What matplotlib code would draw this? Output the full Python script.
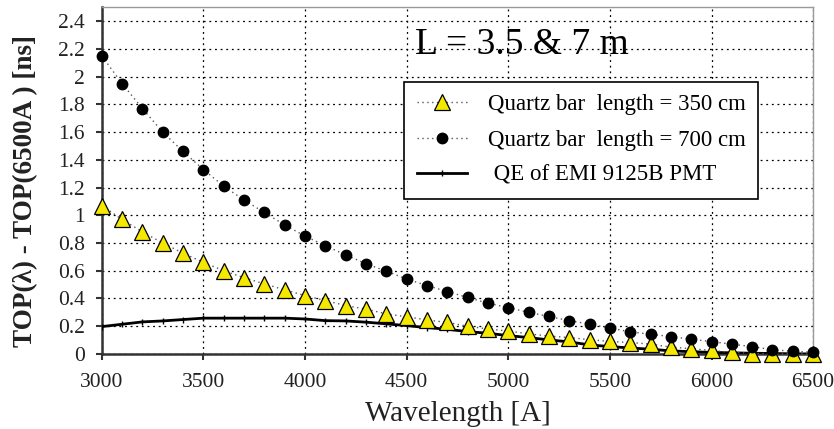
import matplotlib
matplotlib.use("Agg")
import matplotlib.pyplot as plt
from matplotlib.ticker import FixedLocator, FuncFormatter

wavelength = [3000, 3100, 3200, 3300, 3400, 3500, 3600, 3700, 3800, 3900,
              4000, 4100, 4200, 4300, 4400, 4500, 4600, 4700, 4800, 4900,
              5000, 5100, 5200, 5300, 5400, 5500, 5600, 5700, 5800, 5900,
              6000, 6100, 6200, 6300, 6400, 6500]

bar_350cm = [1.07, 0.97, 0.88, 0.80, 0.727, 0.66, 0.60, 0.55, 0.505, 0.462,
             0.421, 0.385, 0.349, 0.323, 0.289, 0.268, 0.245, 0.227, 0.200, 0.180,
             0.165, 0.145, 0.129, 0.118, 0.103, 0.090, 0.082, 0.071, 0.049, 0.038,
             0.025, 0.011, 0.003, 0.002, 0.001, 0.0]

bar_700cm = [2.15, 1.95, 1.77, 1.60, 1.46, 1.33, 1.21, 1.11, 1.02, 0.93,
             0.85, 0.78, 0.715, 0.65, 0.597, 0.54, 0.493, 0.45, 0.407, 0.366,
             0.334, 0.30, 0.27, 0.24, 0.215, 0.187, 0.159, 0.142, 0.125, 0.106,
             0.089, 0.070, 0.053, 0.030, 0.019, 0.012]

qe_pmt = [0.197, 0.214, 0.231, 0.238, 0.248, 0.258, 0.258, 0.258, 0.258, 0.258,
          0.252, 0.240, 0.238, 0.229, 0.217, 0.204, 0.190, 0.178, 0.161, 0.149,
          0.132, 0.118, 0.101, 0.087, 0.065, 0.053, 0.043, 0.034, 0.022, 0.016,
          0.011, 0.008, 0.005, 0.003, 0.001, 0.0]

x_ticks = [3000, 3500, 4000, 4500, 5000, 5500, 6000, 6500]
y_ticks = [0, 0.2, 0.4, 0.6, 0.8, 1.0, 1.2, 1.4, 1.6, 1.8, 2.0, 2.2, 2.4]

label_350 = "Quartz bar  length = 350 cm"
label_700 = "Quartz bar  length = 700 cm"
label_qe = " QE of EMI 9125B PMT"
title_text = "L = 3.5 & 7 m"
x_label = "Wavelength [A]"
y_label = "TOP(\u03bb) - TOP(6500A ) [ns]"

plt.rcParams['font.family'] = ['Liberation Serif', 'DejaVu Serif']

fig = plt.figure(figsize=(8.34, 4.29), dpi=100)
ax = fig.add_axes([0.122, 0.175, 0.853, 0.808])

ax.plot(wavelength, bar_350cm, linestyle=(0, (1, 2.5)), color='#555555', lw=1.0,
        marker='^', markersize=11, markerfacecolor='#F5E800', markeredgecolor='black',
        markeredgewidth=0.9, label=label_350, clip_on=False, zorder=4)
ax.plot(wavelength, bar_700cm, linestyle=(0, (1, 2.5)), color='#555555', lw=1.0,
        marker='o', markersize=7.5, markerfacecolor='black', markeredgecolor='black',
        label=label_700, clip_on=False, zorder=5)
ax.plot(wavelength, qe_pmt, linestyle='-', color='black', lw=2.0,
        marker='|', markersize=5, markeredgewidth=1.0,
        label=label_qe, zorder=3)

ax.set_xlim(3000, 6500)
ax.set_ylim(0, 2.5)
ax.xaxis.set_major_locator(FixedLocator(x_ticks))
ax.yaxis.set_major_locator(FixedLocator(y_ticks))
ax.yaxis.set_major_formatter(FuncFormatter(lambda v, p: ('%g' % round(v, 2))))

ax.grid(True, which='major', color='black', linestyle=(0, (1.5, 3)), linewidth=0.9)
ax.set_axisbelow(True)

for s in ['left', 'bottom']:
    ax.spines[s].set_color('#333333')
    ax.spines[s].set_linewidth(1.8)
for s in ['top', 'right']:
    ax.spines[s].set_color('#999999')
    ax.spines[s].set_linewidth(1.0)

ax.tick_params(axis='both', direction='out', length=4, width=1.5, color='#333333',
               labelsize=15.5, labelcolor='#222222')
ax.tick_params(axis='x', pad=10)
ax.tick_params(axis='y', pad=8)
ax.tick_params(top=False, right=False)

ax.set_xlabel(x_label, fontsize=21, color='#222222', labelpad=6)
ax.set_ylabel(y_label, fontsize=19.5, fontweight='bold', color='#222222')
ax.yaxis.set_label_coords(-0.09, 0.47)

ax.text(4540, 2.16, title_text, fontsize=27, color='black', ha='left', va='baseline')

leg = ax.legend(loc='upper left', bbox_to_anchor=(0.425, 0.785), fontsize=16.5,
                frameon=True, fancybox=False, edgecolor='black', framealpha=1,
                handlelength=2.2, handletextpad=0.9, borderpad=0.55, labelspacing=0.62,
                borderaxespad=0)
leg.get_frame().set_linewidth(1.2)

fig.savefig("out.png", dpi=100)
